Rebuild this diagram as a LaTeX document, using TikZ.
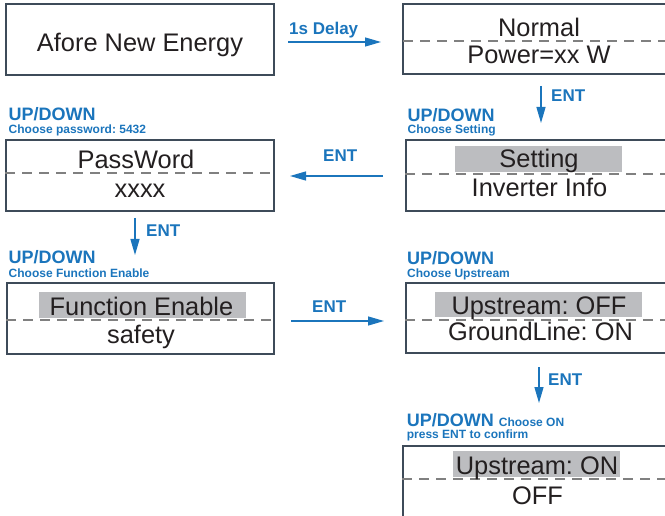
\documentclass[tikz,border=0pt]{standalone}
\usepackage{fontspec}
\setmainfont{Liberation Sans}
\usetikzlibrary{arrows.meta,calc}
\definecolor{ablue}{RGB}{27,117,188}
\definecolor{aframe}{RGB}{62,75,89}
\definecolor{atext}{RGB}{35,31,32}
\definecolor{adash}{RGB}{128,128,128}
\definecolor{ahl}{RGB}{188,189,192}
\frenchspacing
\begin{document}
\begin{tikzpicture}[x=1pt,y=-1pt,
  box/.style={draw=aframe,line width=1.5pt,rectangle,inner sep=0pt,outer sep=0pt},
  maintxt/.style={anchor=base,inner sep=0pt,text=atext,font=\fontsize{25.4}{30}\selectfont},
  lab/.style={anchor=base west,inner sep=0pt,text=ablue,font=\fontsize{18}{21}\selectfont\bfseries},
  sublab/.style={anchor=base west,inner sep=0pt,text=ablue,font=\fontsize{12}{14}\selectfont\bfseries},
  arrlab/.style={anchor=base west,inner sep=0pt,text=ablue,font=\fontsize{17}{20}\selectfont\bfseries},
  arr/.style={draw=ablue,line width=1.3pt,-{Triangle[length=16pt,width=9pt]}},
  dline/.style={draw=adash,line width=1.3pt,dash pattern=on 10pt off 7pt},
  hl/.style={fill=ahl,draw=none}]
\useasboundingbox (0,0) rectangle (665,516);
\clip (0,0) rectangle (665,516);

% highlights
\fill[hl] (455,146) rectangle (622,172);
\fill[hl] (39,292) rectangle (246,318);
\fill[hl] (435,292) rectangle (642,317);
\fill[hl] (453,451) rectangle (620,477);

% boxes
\node[box,minimum width=268,minimum height=71] (b1) at (140,39.5) {};
\node[box,minimum width=272,minimum height=70] (b2) at (539,39) {};
\node[box,minimum width=267,minimum height=71] (bset) at (539.5,175.5) {};
\node[box,minimum width=268,minimum height=71] (bpass) at (140,175.5) {};
\node[box,minimum width=267,minimum height=71] (bfunc) at (140.5,318.5) {};
\node[box,minimum width=267,minimum height=70] (bup) at (539.5,318) {};
\node[box,minimum width=268,minimum height=71] (bon) at (537,481.5) {};

% dashed separators
\draw[dline] ($(b2.west)+(0,2)$) -- ($(b2.east)+(0,2)$);
\draw[dline] ($(bset.west)+(-1,-1.5)$) -- ($(bset.east)+(0,-1.5)$);
\draw[dline] ($(bpass.west)+(-1,-2.5)$) -- ($(bpass.east)+(0,-2.5)$);
\draw[dline] ($(bfunc.west)+(-1,1.5)$) -- ($(bfunc.east)+(0,1.5)$);
\draw[dline] ($(bup.west)+(-1,2)$) -- ($(bup.east)+(0,2)$);
\draw[dline] ($(bon.west)+(-1,-2.5)$) -- ($(bon.east)+(0,-2.5)$);

% main texts
\node[maintxt] (t1) at (140,51.5) {Afore New Energy};
\node[maintxt] (t2a) at (539,36.7) {Normal};
\node[maintxt] (t2b) at (539,64) {Power=xx W};
\node[maintxt] (tseta) at (539,168) {Setting};
\node[maintxt] (tsetb) at (539.5,197) {Inverter Info};
\node[maintxt] (tpassa) at (136,168.5) {PassWord};
\node[maintxt] (tpassb) at (140,198) {xxxx};
\node[maintxt] (tfunca) at (141.5,316) {Function Enable};
\node[maintxt] (tfuncb) at (141,344) {safety};
\node[maintxt] (tupa) at (539,314.6) {Upstream: OFF};
\node[maintxt] (tupb) at (540.5,341) {GroundLine: ON};
\node[maintxt] (tona) at (537,474.6) {Upstream: ON};
\node[maintxt] (tonb) at (537.5,504) {OFF};

% blue labels
\node[lab] (l2a) at (8.5,121) {UP/DOWN};
\node[sublab] (l2b) at (8.5,133.5) {Choose password: 5432};
\node[lab] (l2c) at (407.5,121.5) {UP/DOWN};
\node[sublab] (l2d) at (407.5,133.5) {Choose Setting};
\node[lab] (l3a) at (8.5,264) {UP/DOWN};
\node[sublab] (l3b) at (8.5,278) {Choose Function Enable};
\node[lab] (l3c) at (407,265) {UP/DOWN};
\node[sublab] (l3d) at (407,277.5) {Choose Upstream};
\node[lab] (l4a) at (406.7,426.7) {UP/DOWN {\fontsize{12}{14}\selectfont Choose ON}};
\node[sublab] (l4b) at (406.7,438.5) {press ENT to confirm};

% arrow labels
\node[arrlab] (d1) at (289,35) {1s Delay};
\node[arrlab] (e1) at (551,102) {ENT};
\node[arrlab] (e2) at (323,162) {ENT};
\node[arrlab] (e3) at (146,237) {ENT};
\node[arrlab] (e4) at (312,312.3) {ENT};
\node[arrlab] (e5) at (548,385) {ENT};

% arrows
\draw[arr] ($(b1.east)+(14,2.5)$) -- ($(b2.west)+(-22,3)$);
\draw[arr] ($(b2.south)+(2,12)$) -- ($(bset.north)+(1.5,-17)$);
\draw[arr] ($(bset.west)+(-23,0.5)$) -- ($(bpass.east)+(16,0.5)$);
\draw[arr] ($(bpass.south)+(-5,7)$) -- ($(bfunc.north)+(-5.5,-28)$);
\draw[arr] ($(bfunc.east)+(17,2.5)$) -- ($(bup.west)+(-22,3)$);
\draw[arr] ($(bup.south)+(-0.5,14)$) -- ($(bon.north)+(2,-43)$);
\end{tikzpicture}
\end{document}
